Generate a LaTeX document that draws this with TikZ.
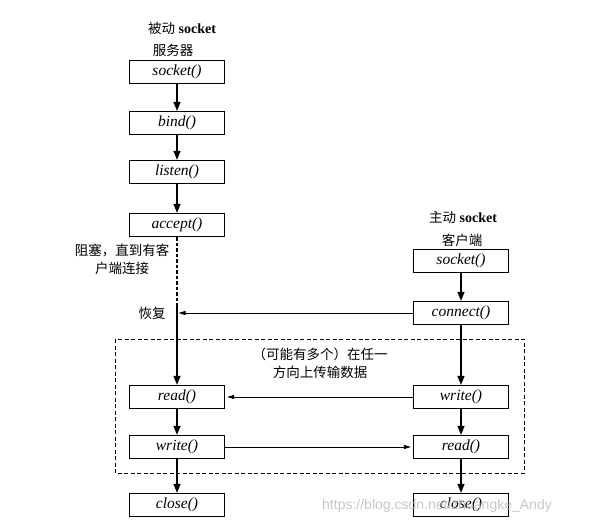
\documentclass[tikz,border=0pt]{standalone}
\usepackage{fontspec}
\setmainfont{Liberation Serif}
\setsansfont{Liberation Sans}
\newfontfamily\cjk{Noto Sans CJK SC}
\usetikzlibrary{arrows.meta}
\begin{document}
\begin{tikzpicture}[x=1pt,y=-1pt,
  fbox/.style={draw, line width=1.3pt, minimum width=95pt, minimum height=23pt, inner sep=0pt, font=\fontsize{15.5}{16}\selectfont\itshape},
  vline/.style={line width=1.3pt, -{Triangle[length=9pt,width=7pt]}},
  hline/.style={line width=0.8pt, -{Triangle[length=7pt,width=4pt]}},
  lbl/.style={font=\fontsize{13.5}{18}\selectfont\cjk, align=center, inner sep=0pt},
  ttl/.style={font=\fontsize{14}{15}\selectfont, inner sep=0pt}]
\useasboundingbox (0,0) rectangle (600,530);
% titles
\node[ttl] (tl1) at (182,28) {{\cjk\fontsize{13.5}{15}\selectfont 被动} \textbf{socket}};
\node[lbl] (tl2) at (173,50) {服务器};
\node[ttl] (tr1) at (463,217) {{\cjk\fontsize{13.5}{15}\selectfont 主动} \textbf{socket}};
\node[lbl] (tr2) at (462,240) {客户端};
% left column
\node[fbox] (ls) at (177,72) {socket()};
\node[fbox] (lb) at (177,123) {bind()};
\node[fbox] (ll) at (177,172) {listen()};
\node[fbox] (la) at (177,225) {accept()};
\node[fbox] (lr) at (177,397) {read()};
\node[fbox] (lw) at (177,447) {write()};
\node[fbox] (lc) at (177,505) {close()};
% right column
\node[fbox] (rs) at (461,261) {socket()};
\node[fbox] (rc) at (461,313) {connect()};
\node[fbox] (rw) at (461,397) {write()};
\node[fbox] (rr) at (461,447) {read()};
\node[fbox] (rcl) at (461,505) {close()};
% labels
\node[lbl] (block) at (122,259) {阻塞，直到有客\\户端连接};
\node[lbl] (resume) at (152,313) {恢复};
\node[lbl] (data) at (320,363) {（可能有多个）在任一\\方向上传输数据};
% dashed region
\draw[dashed, line width=1pt, dash pattern=on 4pt off 2.5pt] (115,339) rectangle (524,473);
% connectors left
\draw[vline] (ls) -- (lb);
\draw[vline] (lb) -- (ll);
\draw[vline] (ll) -- (la);
\coordinate (dend) at (177,306);
\coordinate (rp) at (177,313);
\draw[line width=1.3pt, dash pattern=on 3.5pt off 2pt] (la.south) -- (dend);
\draw[vline] (dend) -- (lr.north);
\draw[vline] (lr) -- (lw);
\draw[vline] (lw) -- (lc);
% connectors right
\draw[vline] (rs) -- (rc);
\draw[vline] (rc) -- (rw);
\draw[vline] (rw) -- (rr);
\draw[vline] (rr) -- (rcl);
% horizontal
\draw[hline, shorten >=1.5pt] (rc.west) -- (rp);
\draw[hline, shorten >=2pt] (rw.west) -- (lr.east);
\draw[hline, shorten >=2pt] (lw.east) -- (rr.west);
% watermark
\node[anchor=west, font=\sffamily\fontsize{14}{14}\selectfont, text=black!22, inner sep=0pt] (wm) at (322,506) {https://blog.csdn.net/zhuangke\_Andy};
\end{tikzpicture}
\end{document}
